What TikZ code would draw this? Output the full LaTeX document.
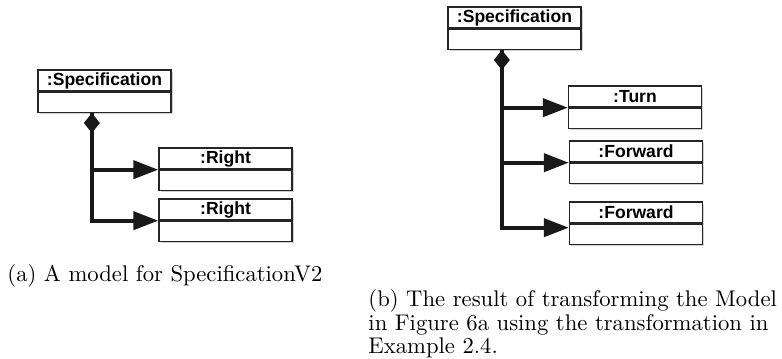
\documentclass[tikz,border=0pt]{standalone}
\usepackage{fontspec}
\newfontfamily\umlfont{Liberation Sans}
\usetikzlibrary{arrows.meta,calc,shadows,positioning}

\begin{document}
\begin{tikzpicture}[x=0.45pt,y=-0.45pt,
  boxshadow/.style={drop shadow={shadow xshift=0.8pt,shadow yshift=-0.8pt,fill=black!35}},
  umlhead/.style={draw=black!85, line width=0.6pt, fill=white, boxshadow,
    minimum width=59.85pt, minimum height=9.45pt, inner sep=0pt,
    font=\umlfont\bfseries\fontsize{7.9}{8}\selectfont},
  umlbody/.style={draw=black!85, line width=0.6pt, fill=white, boxshadow,
    minimum width=59.85pt, minimum height=9pt, inner sep=0pt},
  link/.style={line width=1.8pt, black!90},
  comp/.style={{Diamond[length=9pt,width=7.2pt]}-{Triangle[length=11.25pt,width=8.1pt]}},
  nav/.style={-{Triangle[length=11.25pt,width=8.1pt]}},
  caption/.style={inner sep=0pt, font=\fontsize{10.2}{10.6}\selectfont}]

\useasboundingbox (0,0) rectangle (782,358);

% ---- (a) model for SpecificationV2 ----
\node[umlhead] (sa) at (104.5,80.5) {:Specification};
\node[umlbody, below=0pt of sa] (sab) {};
\node[umlhead] (ra1) at (225.5,158.5) {:Right};
\node[umlbody, below=0pt of ra1] (ra1b) {};
\node[umlhead] (ra2) at (225.5,209.5) {:Right};
\node[umlbody, below=0pt of ra2] (ra2b) {};

\coordinate (ta) at ($(sab.south west)!0.406!(sab.south east)$);
\draw[link,comp] (ta) |- (ra1.south west);
\draw[link,nav] (ta) |- (ra2.south west);

% ---- (b) transformed model ----
\node[umlhead] (sb) at (514.5,17.5) {:Specification};
\node[umlbody, below=0pt of sb] (sbb) {};
\node[umlhead] (tn) at (635,96.5) {:Turn};
\node[umlbody, below=0pt of tn] (tnb) {};
\node[umlhead] (f1) at (636,151.5) {:Forward};
\node[umlbody, below=0pt of f1] (f1b) {};
\node[umlhead] (f2) at (636,212.5) {:Forward};
\node[umlbody, below=0pt of f2] (f2b) {};

\coordinate (tb) at ($(sbb.south west)!0.406!(sbb.south east)$);
\draw[link,comp] (tb) |- (tn.south west);
\draw[link,nav] (tb) |- (f1.south west);
\draw[link,nav] (tb) |- ([yshift=-1.8pt]f2.south west);

% ---- captions ----
\node[caption, anchor=base west] (capa) at (7,281) {(a) A model for SpecificationV2};
\node[caption, anchor=north west, align=left] (capb) at (368,289)
  {(b) The result of transforming the Model\\in Figure 6a using the transformation in\\Example 2.4.};
\end{tikzpicture}
\end{document}
